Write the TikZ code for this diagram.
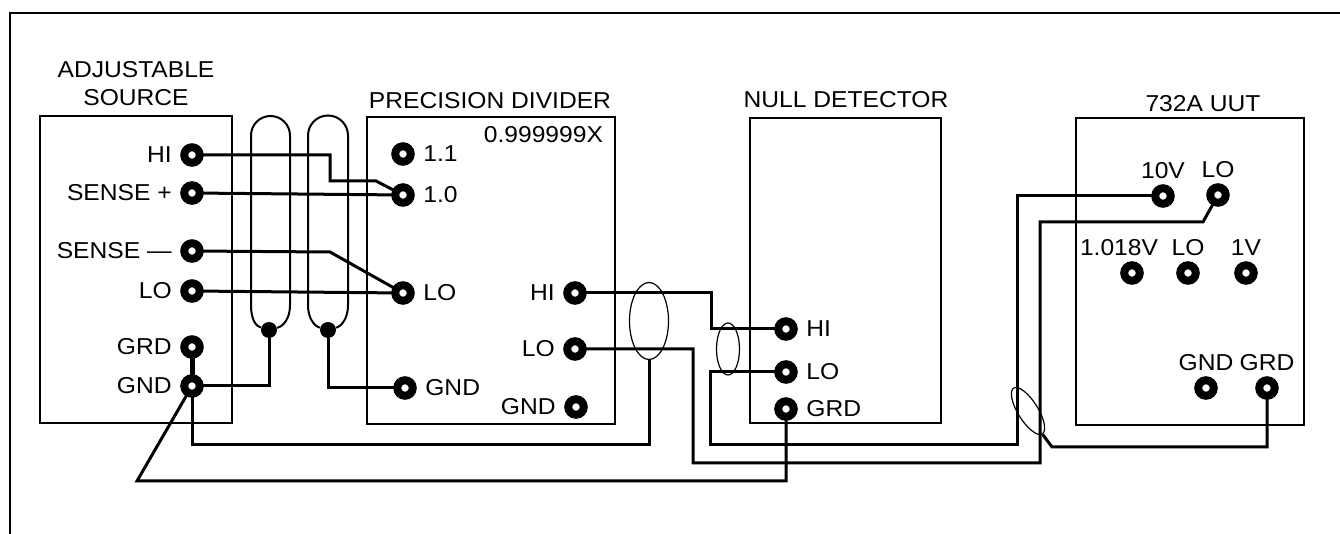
\documentclass[tikz,border=0pt]{standalone}
\usepackage{fontspec}
\setmainfont{Liberation Sans}[FakeStretch=1.07]
\usetikzlibrary{shapes.geometric}

\tikzset{
	term/.style={circle, draw, line width=4pt, minimum size=7.75pt, inner sep=0pt, outer sep=0pt},
	junc/.style={circle, fill, minimum size=8pt, inner sep=0pt},
	shield/.style={ellipse, draw, line width=0.6pt, inner sep=0pt},
	wire/.style={line width=1.5pt},
	panel/.style={line width=1.2pt},
	cable/.style={line width=1pt},
	title/.style={font=\fontsize{11.5}{14}\selectfont, align=center},
	every label/.style={font=\fontsize{11.5}{14}\selectfont, inner sep=3.8pt, outer sep=0pt},
	label distance=2.5pt,
}

\begin{document}
\begin{tikzpicture}[x=0.5pt, y=-0.5pt]
	\useasboundingbox (0,0) rectangle (1340,534);
	\draw[line width=1.25pt] (10,534) -- (10,13) -- (1340,13);

	% adjustable source
	\draw[panel] (40,116) rectangle (232,423);
	\node[title] (as-title) at (136,84) {ADJUSTABLE\\SOURCE};
	\node[term, label=left:HI] (as-hi) at (192,155) {};
	\node[term, label=left:SENSE +] (as-sp) at (192,193) {};
	\node[term, label=left:SENSE —] (as-sm) at (192,251) {};
	\node[term, label=left:LO] (as-lo) at (192,291) {};
	\node[term, label=left:GRD] (as-grd) at (192,347) {};
	\node[term, label=left:GND] (as-gnd) at (192,386) {};

	% precision divider
	\draw[panel] (367,117) rectangle (615,424);
	\node[title] (dv-title) at (490,101) {PRECISION DIVIDER};
	\node[title, anchor=east] (dv-ratio) at (610,135) {0.999999X};
	\node[term, label=right:1.1] (dv-11) at (403,154) {};
	\node[term, label=right:1.0] (dv-10) at (403,195) {};
	\node[term, label=right:LO] (dv-lo) at (403,293) {};
	\node[term, label=right:GND] (dv-gnd) at (405,388) {};
	\node[term, label=left:HI] (dv-ohi) at (575,293) {};
	\node[term, label=left:LO] (dv-olo) at (575,349) {};
	\node[term, label=left:GND] (dv-ognd) at (576,407) {};

	% null detector
	\draw[panel] (750,118) rectangle (941,423);
	\node[title] (nd-title) at (846,100) {NULL DETECTOR};
	\node[term, label=right:HI] (nd-hi) at (786,329) {};
	\node[term, label=right:LO] (nd-lo) at (786,372) {};
	\node[term, label=right:GRD] (nd-grd) at (786,409) {};

	% 732A
	\draw[panel] (1076,118) rectangle (1304,425);
	\node[title] (uut-title) at (1203,104) {732A UUT};
	\node[term, label={[label distance=1pt]above:10V}] (uut-10v) at (1163,196) {};
	\node[term, label={[label distance=1pt]above:LO}] (uut-lo) at (1218,195) {};
	\node[term, label={[label distance=1pt, xshift=-6.5pt]above:1.018V}] (uut-1018) at (1132,273) {};
	\node[term, label={[label distance=1pt]above:LO}] (uut-lo2) at (1188,273) {};
	\node[term, label={[label distance=1pt]above:1V}] (uut-1v) at (1246,273) {};
	\node[term, label={[label distance=1pt]above:GND}] (uut-gnd) at (1206,388) {};
	\node[term, label={[label distance=1pt]above:GRD}] (uut-grd) at (1267,388) {};

	% shields
	\node[junc] (j1) at (269,330) {};
	\node[junc] (j2) at (328,330) {};
	\draw[cable] (j1) .. controls (255,326) and (251,318) .. (251,305) -- (251,135.5)
		arc[start angle=180, end angle=360, radius=19.5] -- (290,305) .. controls (290,318) and (284,326) .. (j1);
	\draw[cable] (j2) .. controls (314,326) and (308,318) .. (308,305) -- (308,135.5)
		arc[start angle=180, end angle=360, radius=20] -- (348,305) .. controls (348,318) and (342,326) .. (j2);
	\node[shield, minimum width=19.5pt, minimum height=38.5pt] (sh1) at (649,321) {};
	\node[shield, minimum width=11.5pt, minimum height=26pt] (sh2) at (728,349) {};
	\node[shield, minimum width=27pt, minimum height=10pt, rotate=-58] (sh3) at (1028,411) {};

	% source to divider
	\draw[wire] (as-hi) -- (330,155) -- (330,181) -- (376,181) -- (dv-10);
	\draw[wire] (as-sp) -- (dv-10);
	\draw[wire] (as-sm) -- (330,252) -- (dv-lo);
	\draw[wire] (as-lo) -- (dv-lo);
	\draw[line width=2.5pt] (as-grd) -- (as-gnd);
	\draw[wire] (as-gnd) -- (269,386) -- (j1);
	\draw[wire] (j2) -- (328,388) -- (dv-gnd);
	\draw[wire] (as-gnd) -- (192,445) -| (sh1.south);
	\draw[wire] (as-gnd) -- (137,481) -| (nd-grd);

	% divider, null detector, 732A
	\draw[wire] (dv-ohi) -- (711,293) |- (nd-hi);
	\draw[wire] (dv-olo) -- (693,349) -- (693,463) -- (1040,463) -- (1040,222) -- (1203,222) -- (uut-lo);
	\draw[wire] (nd-lo) -| (710,445) -- (1017,445) |- (uut-10v);
	\draw[wire] (uut-grd) |- (1052,447) -- (sh3.east);
\end{tikzpicture}
\end{document}
